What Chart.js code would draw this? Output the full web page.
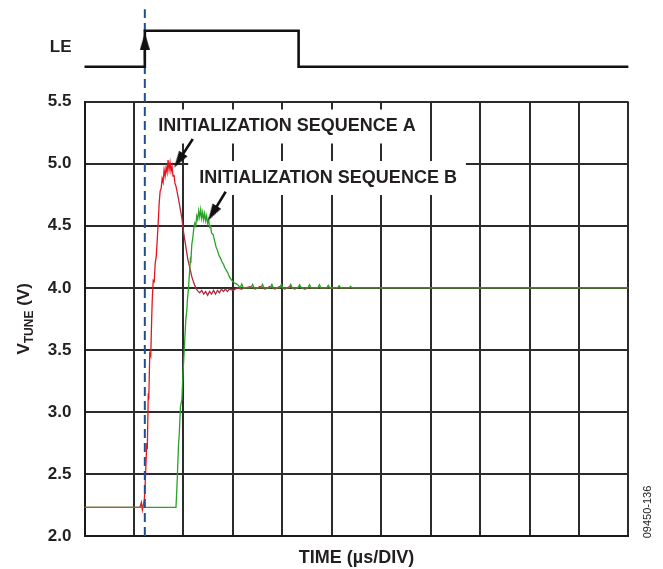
<!DOCTYPE html>
<html><head><meta charset="utf-8">
<script src="https://cdn.jsdelivr.net/npm/chart.js@4/dist/chart.umd.min.js"></script>
<style>html,body{margin:0;padding:0;background:#fff}</style>
</head><body>
<canvas id="c" width="663" height="569" style="width:663px;height:569px;display:block"></canvas>
<script>
// ---- DATA (x in µs divisions, y in volts) ----
const yTickValues = [2.0, 2.5, 3.0, 3.5, 4.0, 4.5, 5.0, 5.5];
const seqA_time = [0,1.12,1.15,1.17,1.19,1.21,1.23,1.26,1.27,1.29,1.30,1.32,1.34,1.36,1.37,1.39,1.41,1.43,1.45,1.47,1.49,1.51,1.53,1.55,1.57,1.59,1.61,1.63,1.65,1.67,1.69,1.71,1.73,1.75,1.77,1.79,1.81,1.83,1.85,1.87,1.89,1.93,1.97,2.01,2.05,2.09,2.13,2.17,2.21,2.25,2.29,2.33,2.37,2.41,2.45,2.49,2.53,2.57,2.61,2.65,2.69,2.73,2.77,2.81,2.85,2.89,2.93,3.01,3.09,3.17,3.25,3.35,3.45,3.55,3.65,3.75,3.85,3.95,4.05,4.15,4.25,4.35,4.45,4.55,5.00,11.00];
const seqA_vtune = [2.23,2.23,2.27,2.21,2.25,2.29,2.45,2.75,2.70,3.15,3.10,3.47,3.45,3.77,3.90,4.06,4.05,4.20,4.25,4.38,4.52,4.68,4.78,4.80,4.88,4.85,4.95,4.90,4.97,4.93,5.03,4.95,5.01,4.94,4.98,4.90,4.91,4.84,4.82,4.78,4.74,4.65,4.56,4.43,4.33,4.23,4.16,4.09,4.04,4.00,3.975,3.96,3.98,3.95,3.97,3.94,3.97,3.95,3.98,3.95,3.98,3.96,3.99,3.97,3.99,3.97,3.99,3.98,4.00,3.99,4.00,4.01,3.99,4.01,3.99,4.01,3.99,4.01,3.99,4.01,3.99,4.01,3.99,4.00,4.00,4.00];
const seqB_time = [0,1.85,1.87,1.90,1.92,1.94,1.97,1.99,2.01,2.03,2.05,2.07,2.08,2.10,2.12,2.14,2.15,2.17,2.19,2.21,2.23,2.25,2.27,2.29,2.31,2.33,2.35,2.37,2.39,2.41,2.43,2.45,2.47,2.49,2.51,2.53,2.55,2.57,2.60,2.63,2.66,2.69,2.72,2.75,2.78,2.81,2.84,2.87,2.90,2.93,2.96,3.00,3.03,3.08,3.11,3.15,3.18,3.21,3.37,3.40,3.43,3.57,3.60,3.63,3.76,3.79,3.82,3.95,3.98,4.01,4.14,4.17,4.20,4.32,4.35,4.38,4.52,4.55,4.58,4.72,4.75,4.78,4.90,4.93,4.96,5.12,5.15,5.18,5.35,5.38,5.41,11.00];
const seqB_vtune = [2.23,2.23,2.40,2.72,2.85,3.04,3.10,3.30,3.44,3.60,3.75,3.82,3.90,3.98,4.10,4.22,4.20,4.35,4.40,4.48,4.52,4.50,4.58,4.55,4.62,4.57,4.63,4.56,4.61,4.55,4.60,4.54,4.58,4.52,4.55,4.49,4.50,4.44,4.43,4.38,4.33,4.30,4.26,4.24,4.21,4.19,4.16,4.14,4.12,4.09,4.07,4.05,4.04,4.03,4.02,4.00,4.03,4.00,4.00,4.028,4.00,4.00,4.028,4.00,4.00,4.028,4.00,4.00,4.028,4.00,4.00,4.028,4.00,4.00,4.025,4.00,4.00,4.025,4.00,4.00,4.025,4.00,4.00,4.02,4.00,4.00,4.018,4.00,4.00,4.012,4.00,4.00];
// LE (latch enable) logic trace: 0 = low, 1 = high
const le_time  = [0, 1.22, 1.22, 4.33, 4.33, 11];
const le_level = [0, 0, 1, 1, 0, 0];
const triggerTime = 1.22;
const labelA = 'INITIALIZATION SEQUENCE A';
const labelB = 'INITIALIZATION SEQUENCE B';

// ---- helpers / layout ----
const FONT = '"Liberation Sans", Arial, Helvetica, sans-serif';
const TXT = '#231f20';
const toXY = (xs, ys) => xs.map((x, i) => ({x, y: ys[i]}));
// hidden LE axis: maps level 0/1 to the strip above the plot
const LE_MIN = -13.03, LE_MAX = -0.97;

function arrowImg(w, h) {
  const c = document.createElement('canvas');
  c.width = w; c.height = h;
  const g = c.getContext('2d');
  g.fillStyle = '#111';
  g.beginPath(); g.moveTo(w / 2, 0); g.lineTo(w, h); g.lineTo(0, h); g.closePath(); g.fill();
  return c;
}
const headImg = arrowImg(10, 17);

const annotations = [
  {text: labelA, x: 1.49, y: 5.30, from: {x: 2.19, y: 5.20}, to: {x: 1.905, y: 5.025}, rot: 213},
  {text: labelB, x: 2.32, y: 4.885, from: {x: 2.855, y: 4.774}, to: {x: 2.588, y: 4.60}, rot: 211.5}
];
const ANN_FONT = 'bold 18px ' + FONT;

const arrowSets = annotations.map(a => ({
  data: [a.from, a.to], borderColor: '#111', borderWidth: 2.6, backgroundColor: '#111',
  pointRadius: c => c.dataIndex === 1 ? 6 : 0, pointStyle: headImg, pointRotation: a.rot,
  clip: false, order: 0
}));

const textPlugin = {
  id: 'texts',
  beforeDatasetsDraw(chart) {
    // white boxes behind the annotation texts (they hide the grid)
    const {ctx, scales: {x, y}} = chart;
    ctx.save();
    ctx.font = ANN_FONT;
    ctx.fillStyle = '#fff';
    annotations.forEach(a => {
      const px = x.getPixelForValue(a.x), py = y.getPixelForValue(a.y);
      const w = ctx.measureText(a.text).width;
      ctx.fillRect(px - 11, py - 17, w + 20, 34);
    });
    ctx.restore();
  },
  afterDatasetsDraw(chart) {
    const {ctx} = chart;
    // LE edge arrow (outside the chart area, so draw its point here)
    const meta = chart.getDatasetMeta(2);
    meta.data.forEach(pt => {
      ctx.save(); ctx.translate(pt.x, pt.y); ctx.drawImage(headImg, -headImg.width / 2, -headImg.height / 2); ctx.restore();
    });
  },
  afterDraw(chart) {
    const {ctx, scales: {x, y, le}, chartArea} = chart;
    ctx.save();
    ctx.fillStyle = TXT;
    ctx.font = ANN_FONT;
    ctx.textBaseline = 'middle';
    ctx.textAlign = 'left';
    annotations.forEach(a => ctx.fillText(a.text, x.getPixelForValue(a.x), y.getPixelForValue(a.y)));
    // LE label
    ctx.font = 'bold 17px ' + FONT;
    ctx.textAlign = 'right';
    ctx.fillText('LE', chartArea.left - 13, le.getPixelForValue(0.55));
    // y title with subscript
    ctx.save();
    ctx.translate(23, (chartArea.top + chartArea.bottom) / 2);
    ctx.rotate(-Math.PI / 2);
    ctx.textAlign = 'left'; ctx.textBaseline = 'alphabetic';
    const big = 'bold 17px ' + FONT, small = 'bold 12px ' + FONT;
    ctx.font = big; const w1 = ctx.measureText('V').width, w3 = ctx.measureText(' (V)').width;
    ctx.font = small; const w2 = ctx.measureText('TUNE').width;
    let sx = -(w1 + w2 + w3) / 2; const by = 6;
    ctx.font = big; ctx.fillText('V', sx, by); sx += w1;
    ctx.font = small; ctx.fillText('TUNE', sx, by + 4); sx += w2;
    ctx.font = big; ctx.fillText(' (V)', sx, by);
    ctx.restore();
    // figure id
    ctx.save();
    ctx.translate(648, 512);
    ctx.rotate(-Math.PI / 2);
    ctx.font = '11px ' + FONT; ctx.textAlign = 'center'; ctx.textBaseline = 'middle';
    ctx.fillText('09450-136', 0, 0);
    ctx.restore();
    ctx.restore();
  }
};

const gridStyle = {color: '#2b2b2b', lineWidth: 2, drawTicks: false};

new Chart(document.getElementById('c'), {
  type: 'line',
  data: {
    datasets: [
      {data: toXY(le_time, le_level), yAxisID: 'le', borderColor: '#111', borderWidth: 2.6, pointRadius: 0, clip: false, tension: 0, order: 0},
      {data: [{x: triggerTime, y: LE_MIN}, {x: triggerTime, y: 1.6}], yAxisID: 'le', borderColor: '#1f4e96', borderWidth: 2, borderDash: [9, 5], pointRadius: 0, clip: false, order: 0},
      {data: [{x: triggerTime, y: 0.71}], yAxisID: 'le', showLine: false, pointRadius: 0, clip: false, order: 0},
      {data: toXY(seqA_time, seqA_vtune), borderColor: '#e3161e', borderWidth: 1.3, pointRadius: 0, tension: 0, order: 2,
       segment: {borderColor: c => c.p0.parsed.x > 1.86 ? '#b0283a' : undefined}},
      {data: toXY(seqB_time, seqB_vtune), borderColor: '#26a326', borderWidth: 1.3, pointRadius: 0, tension: 0, order: 1},
      ...arrowSets
    ]
  },
  options: {
    responsive: false, animation: false, devicePixelRatio: 1,
    layout: {padding: {left: 0, right: 34.6, top: 101.7, bottom: 0}},
    plugins: {legend: {display: false}, tooltip: {enabled: false}},
    scales: {
      x: {type: 'linear', min: 0, max: 11,
          ticks: {stepSize: 1, display: false},
          grid: gridStyle, border: {color: '#1a1a1a', width: 2},
          title: {display: true, text: 'TIME (µs/DIV)', color: TXT, font: {family: FONT, size: 18, weight: 'bold'}, padding: {top: 0, bottom: 0}},
          afterFit: s => { s.height = 33; }},
      y: {type: 'linear', min: 2, max: 5.5,
          afterBuildTicks: s => { s.ticks = yTickValues.map(v => ({value: v})); },
          ticks: {color: TXT, padding: 13, font: {family: FONT, size: 17, weight: 'bold'}, callback: v => Number(v).toFixed(1)},
          grid: gridStyle, border: {color: '#1a1a1a', width: 2},
          afterFit: s => { s.width = 84.5; }},
      le: {type: 'linear', display: false, min: LE_MIN, max: LE_MAX}
    }
  },
  plugins: [textPlugin]
});
</script>
</body></html>
